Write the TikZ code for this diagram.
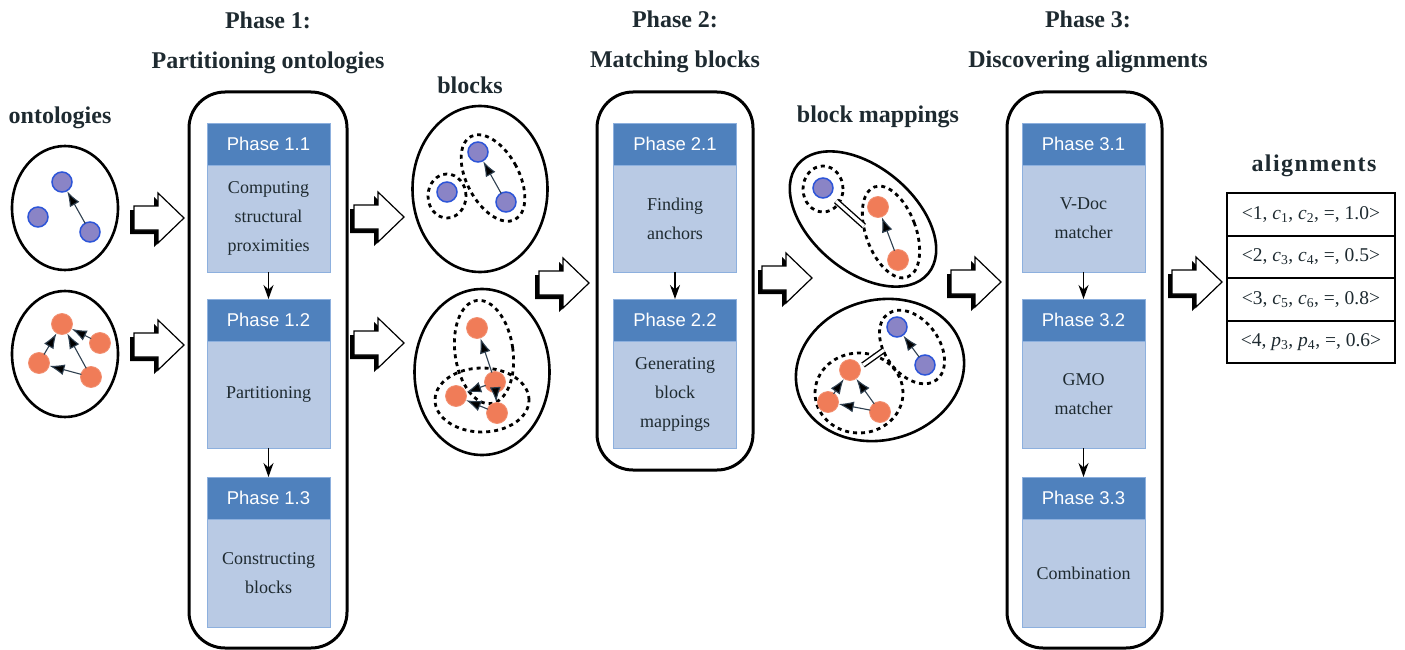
\documentclass[tikz,border=0pt]{standalone}
\usepackage{fontspec}
\setmainfont{Liberation Serif}
\newfontfamily\hdrfont{Liberation Sans}
\usetikzlibrary{shapes.geometric,arrows.meta}

\definecolor{hdrblue}{HTML}{4F81BD}
\definecolor{bodyblue}{HTML}{B9CAE4}
\definecolor{bodyedge}{HTML}{8DB0DE}
\definecolor{bfill}{HTML}{8A84C6}
\definecolor{bedge}{HTML}{2D55D8}
\definecolor{rfill}{HTML}{F07C58}
\definecolor{edgeline}{HTML}{2E3F4F}
\definecolor{inktext}{HTML}{1E2A30}

\tikzset{
  title/.style={font=\fontsize{24}{40}\selectfont\bfseries, align=center, text=inktext, inner sep=0},
  phasebox/.style={draw, line width=3pt, rounded corners=36pt, outer sep=0},
  hdr/.style={fill=hdrblue, draw=bodyedge, line width=0.8pt, text=white, outer sep=0,
    font=\hdrfont\fontsize{18.5}{22}\selectfont, minimum width=123pt, minimum height=42pt, inner sep=0},
  body/.style={fill=bodyblue, draw=bodyedge, line width=0.8pt, text=inktext, outer sep=0,
    font=\fontsize{18}{29}\selectfont, text width=115pt, inner xsep=4pt, inner ysep=0, align=center},
  flow/.style={-{Stealth[length=14pt,width=10pt]}, line width=1.5pt},
  bnode/.style={circle, fill=bfill, draw=bedge, line width=1.5pt, minimum size=20pt, inner sep=0},
  rnode/.style={circle, fill=rfill, draw=rfill!85!white, line width=0.8pt, minimum size=21pt, inner sep=0},
  link/.style={-{Latex[length=15pt,width=11pt,fill=black]}, line width=1.1pt, draw=edgeline, shorten <=-1pt},
  ontoshape/.style={ellipse, draw, line width=2.6pt, inner sep=0},
  grouping/.style={ellipse, draw, dash pattern=on 4pt off 4pt, line width=2.8pt, inner sep=0},
  eqlink/.style={draw, line width=1.4pt, double distance=3.2pt},
  rowbox/.style={draw, line width=1.6pt, minimum width=168pt, minimum height=42.5pt, inner sep=0,
    font=\fontsize{19.5}{22}\selectfont, text=inktext, outer sep=0},
  fatarrow/.pic={
    \fill[black, shift={(-4,4)}] (0,-12) -- (24,-12) -- (24,-25) -- (50,0) -- (24,25) -- (24,12) -- (0,12) -- cycle;
    \filldraw[fill=white, draw=black, line width=1.2pt] (0,-12) -- (24,-12) -- (24,-25) -- (50,0) -- (24,25) -- (24,12) -- (0,12) -- cycle;
  }
}

% one sub-phase: header strip plus light body below it
\newcommand\phasestep[6]{%
  \node[hdr, anchor=north] (#1h) at (#2,#3) {#4};
  \node[body, anchor=north, minimum height=#5pt] (#1b) at (#1h.south) {#6};
}

\begin{document}
\begin{tikzpicture}[x=1pt,y=-1pt]
\useasboundingbox (0,0) rectangle (1405,650);

% ---------- titles ----------
\node[title] (t1) at (268,43) {Phase 1:\\Partitioning ontologies};
\node[title] (t2) at (675,42) {Phase 2:\\Matching blocks};
\node[title] (t3) at (1088,42) {Phase 3:\\Discovering alignments};
\node[title] (lonto) at (60,118) {ontologies};
\node[title] (lblocks) at (470,85) {blocks};
\node[title] (lmaps) at (878,117) {block mappings};
\node[title, font=\fontsize{24}{30}\selectfont\bfseries\addfontfeature{LetterSpace=6}] (lalign) at (1314,166) {alignments};

% ---------- phase containers ----------
\node[phasebox, minimum width=158pt, minimum height=556pt] (P1) at (268,370) {};
\node[phasebox, minimum width=156pt, minimum height=378pt] (P2) at (675,281) {};
\node[phasebox, minimum width=155pt, minimum height=556pt] (P3) at (1084.5,370) {};

\phasestep{p11}{268.5}{123}{Phase 1.1}{107}{Computing\\structural\\proximities}
\phasestep{p12}{268.5}{299}{Phase 1.2}{107}{Partitioning}
\phasestep{p13}{268.5}{477}{Phase 1.3}{108}{Constructing\\blocks}
\draw[flow] (p11b.south) -- (p12h.north);
\draw[flow] (p12b.south) -- (p13h.north);

\phasestep{p21}{675}{123}{Phase 2.1}{107}{Finding\\anchors}
\phasestep{p22}{675}{299}{Phase 2.2}{107}{Generating\\block\\mappings}
\draw[flow] (p21b.south) -- (p22h.north);

\phasestep{p31}{1083.5}{123}{Phase 3.1}{107}{V-Doc\\matcher}
\phasestep{p32}{1083.5}{299}{Phase 3.2}{107}{GMO\\matcher}
\phasestep{p33}{1083.5}{477}{Phase 3.3}{108}{Combination}
\draw[flow] (p31b.south) -- (p32h.north);
\draw[flow] (p32b.south) -- (p33h.north);

% ---------- input ontologies ----------
\node[ontoshape, minimum width=106pt, minimum height=124pt] (ont1) at (65,208) {};
\node[bnode] (o1a) at (62,182) {};
\node[bnode] (o1b) at (38,217) {};
\node[bnode] (o1c) at (90,232) {};
\draw[link] (o1c) -- (o1a);

\node[ontoshape, minimum width=106pt, minimum height=126pt] (ont2) at (65,354) {};
\node[rnode] (o2a) at (62,324) {};
\node[rnode] (o2b) at (100,343) {};
\node[rnode] (o2c) at (39,363) {};
\node[rnode] (o2d) at (91,377) {};
\draw[link] (o2b) -- (o2a);
\draw[link] (o2d) -- (o2a);
\draw[link] (o2d) -- (o2c);
\draw[link] (o2c) -- (o2a);

% ---------- blocks ----------
\node[ontoshape, minimum width=135pt, minimum height=166pt] (blk1) at (480,189) {};
\node[grouping, minimum width=38pt, minimum height=44pt] (g11) at (447,196) {};
\node[grouping, minimum width=52pt, minimum height=94pt, rotate=28] (g12) at (493,178) {};
\node[bnode] (b1a) at (478,152) {};
\node[bnode] (b1b) at (447,192) {};
\node[bnode] (b1c) at (506,202) {};
\draw[link] (b1c) -- (b1a);

\node[ontoshape, minimum width=135pt, minimum height=166pt] (blk2) at (482,372) {};
\node[grouping, minimum width=58pt, minimum height=104pt, rotate=8] (g21) at (484,352) {};
\node[grouping, minimum width=94pt, minimum height=64pt] (g22) at (482,400) {};
\node[rnode] (b2a) at (477,328) {};
\node[rnode] (b2b) at (495,382) {};
\node[rnode] (b2c) at (456,396) {};
\node[rnode] (b2d) at (497,413) {};
\draw[link] (b2b) -- (b2a);
\draw[link] (b2b) -- (b2c);
\draw[link] (b2d) -- (b2c);
\draw[link] (b2b) -- (b2d);

% ---------- block mappings ----------
\node[ontoshape, minimum width=170pt, minimum height=104pt, rotate=-40] (map1) at (863,219) {};
\node[grouping, minimum width=40pt, minimum height=46pt] (g31) at (823,189) {};
\node[grouping, minimum width=50pt, minimum height=96pt, rotate=20] (g32) at (891,232) {};
\node[bnode] (m1a) at (823,188) {};
\node[rnode] (m1b) at (878,207) {};
\node[rnode] (m1c) at (898,260) {};
\draw[link] (m1c) -- (m1b);
\coordinate (eq1s) at (836,201);
\coordinate (eq1e) at (864,226);
\draw[eqlink] (eq1s) -- (eq1e);

\node[ontoshape, minimum width=170pt, minimum height=140pt, rotate=15] (map2) at (880,370) {};
\node[grouping, minimum width=54pt, minimum height=82pt, rotate=36] (g41) at (912,347) {};
\node[grouping, minimum width=88pt, minimum height=80pt] (g42) at (859,393) {};
\node[bnode] (m2a) at (897,327) {};
\node[bnode] (m2b) at (925,365) {};
\draw[link] (m2b) -- (m2a);
\node[rnode] (m2c) at (850,370) {};
\node[rnode] (m2d) at (828,402) {};
\node[rnode] (m2e) at (880,412) {};
\draw[link] (m2e) -- (m2c);
\draw[link] (m2e) -- (m2d);
\draw[link] (m2d) -- (m2c);
\coordinate (eq2s) at (863,365);
\coordinate (eq2e) at (884,350);
\draw[eqlink] (eq2s) -- (eq2e);

% ---------- alignments table ----------
\node[rowbox] (r1) at (1311,214.5) {<1, \textit{c}\textsubscript{1}, \textit{c}\textsubscript{2}, =, 1.0>};
\node[rowbox, anchor=north] (r2) at (r1.south) {<2, \textit{c}\textsubscript{3}, \textit{c}\textsubscript{4}, =, 0.5>};
\node[rowbox, anchor=north] (r3) at (r2.south) {<3, \textit{c}\textsubscript{5}, \textit{c}\textsubscript{6}, =, 0.8>};
\node[rowbox, anchor=north] (r4) at (r3.south) {<4, \textit{p}\textsubscript{3}, \textit{p}\textsubscript{4}, =, 0.6>};

% ---------- flow arrows between stages ----------
\pic (a1) at (134,218) {fatarrow};
\pic (a2) at (134,345) {fatarrow};
\pic (a3) at (354,217) {fatarrow};
\pic (a4) at (354,343) {fatarrow};
\pic (a5) at (539,283) {fatarrow};
\pic (a6) at (762,278) {fatarrow};
\pic (a7) at (951,282) {fatarrow};
\pic (a8) at (1172,282) {fatarrow};
\end{tikzpicture}
\end{document}
